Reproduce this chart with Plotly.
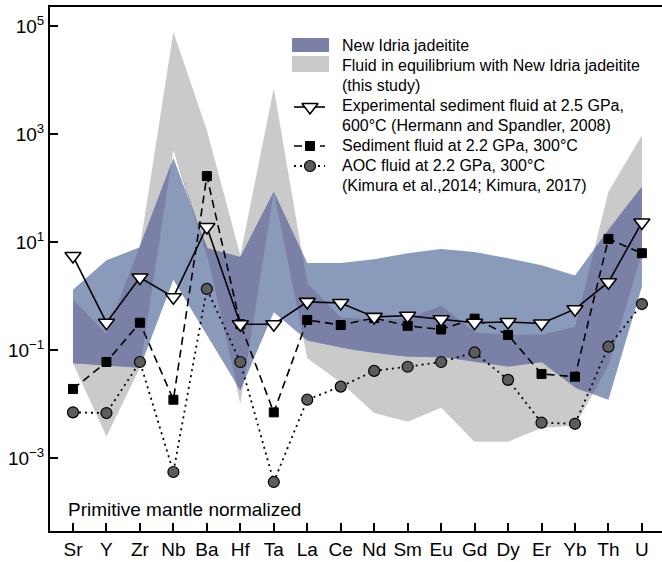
import numpy as np
import plotly.graph_objects as go

elements = ["Sr", "Y", "Zr", "Nb", "Ba", "Hf", "Ta", "La", "Ce", "Nd",
            "Sm", "Eu", "Gd", "Dy", "Er", "Yb", "Th", "U"]

# Experimental sediment fluid at 2.5 GPa, 600 C (Hermann and Spandler, 2008)
exp_sed = [5.5, 0.32, 2.2, 0.95, 19, 0.3, 0.3, 0.78, 0.74, 0.41,
           0.43, 0.37, 0.32, 0.33, 0.31, 0.57, 1.8, 23]
# Sediment fluid at 2.2 GPa, 300 C
sed_fluid = [0.019, 0.06, 0.32, 0.012, 166, 0.3, 0.007, 0.36, 0.29, 0.39,
             0.28, 0.24, 0.38, 0.19, 0.036, 0.032, 11.4, 6.2]
# AOC fluid at 2.2 GPa, 300 C
aoc_fluid = [0.007, 0.0068, 0.06, 0.00055, 1.35, 0.06, 0.00036, 0.012, 0.021, 0.041,
             0.049, 0.06, 0.09, 0.028, 0.0045, 0.0043, 0.115, 0.71]

# New Idria jadeitite range
jade_upper = [1.3, 4.6, 8, 360, 7.7, 5.3, 85, 4.1, 4.1, 4.8,
              6.2, 7.4, 6.5, 5.0, 3.7, 2.4, 17, 105]
jade_lower = [0.057, 0.052, 0.047, 2.0, 0.19, 0.018, 0.5, 0.15, 0.11, 0.088,
              0.075, 0.075, 0.06, 0.049, 0.06, 0.02, 0.012, 1.5]
# Fluid in equilibrium with New Idria jadeitite range
fluid_upper = [0.85, 0.2, 8, 78000, 1170, 5.7, 7000, 1.7, 0.4, 0.36,
               0.38, 0.68, 0.21, 0.19, 0.19, 0.27, 85, 950]
fluid_lower = [0.057, 0.0025, 0.047, 500, 6.0, 0.01, 85, 0.07, 0.025, 0.0068,
               0.0047, 0.0085, 0.002, 0.002, 0.0036, 0.004, 0.05, 6.3]

GRAY = "#c9cac9"
LIGHT_BLUE = "#8a9aba"
DARK_BLUE = "#7b80a6"
FONT = "Liberation Sans, Arial, sans-serif"

xs = np.arange(len(elements), dtype=float)


def overlap_band(x, a_lo, a_up, b_lo, b_up, n=80):
    """Intersection of two log-linear bands, sampled densely."""
    la_lo, la_up = np.log10(a_lo), np.log10(a_up)
    lb_lo, lb_up = np.log10(b_lo), np.log10(b_up)
    X, LO, HI = [], [], []
    for i in range(len(x) - 1):
        t = np.linspace(0, 1, n, endpoint=(i == len(x) - 2))
        xx = x[i] + t * (x[i + 1] - x[i])
        f = lambda arr: arr[i] + t * (arr[i + 1] - arr[i])
        lo = np.maximum(f(la_lo), f(lb_lo))
        hi = np.minimum(f(la_up), f(lb_up))
        hi = np.maximum(hi, lo)
        X.extend(xx)
        LO.extend(10 ** lo)
        HI.extend(10 ** hi)
    return np.array(X), np.array(LO), np.array(HI)


fig = go.Figure()


def band(x, lo, hi, color):
    fig.add_trace(go.Scatter(x=x, y=lo, mode="lines", line=dict(width=0, color=color),
                             showlegend=False, hoverinfo="skip"))
    fig.add_trace(go.Scatter(x=x, y=hi, mode="lines", line=dict(width=0, color=color),
                             fill="tonexty", fillcolor=color, showlegend=False,
                             hoverinfo="skip"))


band(xs, fluid_lower, fluid_upper, GRAY)
band(xs, jade_lower, jade_upper, LIGHT_BLUE)
ox, olo, ohi = overlap_band(xs, jade_lower, jade_upper, fluid_lower, fluid_upper)
band(ox, olo, ohi, DARK_BLUE)

exp_line = dict(color="black", width=1.6)
sed_line = dict(color="black", width=1.6, dash="8px,5px")
aoc_line = dict(color="black", width=1.8, dash="2px,4px")
exp_marker = dict(symbol="triangle-down", size=14, color="white",
                  line=dict(color="black", width=1.6))
sed_marker = dict(symbol="square", size=9, color="black", line=dict(color="black", width=1))
aoc_marker = dict(symbol="circle", size=11, color="#5c5c5c", line=dict(color="black", width=1.2))

fig.add_trace(go.Scatter(x=xs, y=aoc_fluid, mode="lines+markers", line=aoc_line,
                         marker=aoc_marker, showlegend=False))
fig.add_trace(go.Scatter(x=xs, y=sed_fluid, mode="lines+markers", line=sed_line,
                         marker=sed_marker, showlegend=False))
fig.add_trace(go.Scatter(x=xs, y=exp_sed, mode="lines+markers", line=exp_line,
                         marker=exp_marker, showlegend=False))

# ---- manual legend drawn on a pixel-like overlay axis ----
LX0, LX1, LXM = 294, 325, 310
leg_rows = [107, 146, 166]
for (y, ln, mk) in zip(leg_rows, [exp_line, sed_line, aoc_line],
                       [exp_marker, sed_marker, aoc_marker]):
    fig.add_trace(go.Scatter(x=[LX0, LX1], y=[y, y], mode="lines", line=ln,
                             xaxis="x2", yaxis="y2", showlegend=False, hoverinfo="skip"))
    fig.add_trace(go.Scatter(x=[LXM], y=[y], mode="markers", marker=mk,
                             xaxis="x2", yaxis="y2", showlegend=False, hoverinfo="skip"))

fig.add_shape(type="rect", xref="x2", yref="y2", x0=292, x1=329, y0=38, y1=52,
              fillcolor=DARK_BLUE, line=dict(width=0), layer="below")
fig.add_shape(type="rect", xref="x2", yref="y2", x0=292, x1=329, y0=56, y1=72,
              fillcolor=GRAY, line=dict(width=0), layer="below")

legend_text = [
    (45, "New Idria jadeitite"),
    (65, "Fluid in equilibrium with New Idria jadeitite"),
    (85, "(this study)"),
    (105, "Experimental sediment fluid at 2.5 GPa,"),
    (125, "600°C (Hermann and Spandler, 2008)"),
    (145, "Sediment fluid at 2.2 GPa, 300°C"),
    (165, "AOC fluid at 2.2 GPa, 300°C"),
    (185, "(Kimura et al.,2014; Kimura, 2017)"),
]
for y, txt in legend_text:
    fig.add_annotation(x=340, y=y, xref="x2", yref="y2", text=txt, showarrow=False,
                       xanchor="left", yanchor="middle",
                       font=dict(family=FONT, size=16, color="black"))

fig.add_annotation(x=66, y=509, xref="x2", yref="y2", text="Primitive mantle normalized",
                   showarrow=False, xanchor="left", yanchor="middle",
                   font=dict(family=FONT, size=19, color="black"))

ytick_vals = [1e-3, 1e-1, 1e1, 1e3, 1e5]
ytick_text = ["10<sup>−3</sup>", "10<sup>−1</sup>", "10<sup>1</sup>", "10<sup>3</sup>",
              "10<sup>5</sup>"]

fig.update_layout(
    width=662, height=562,
    margin=dict(l=50, r=0, t=7, b=31, autoexpand=False),
    paper_bgcolor="white", plot_bgcolor="white",
    font=dict(family=FONT, size=19, color="black"),
    showlegend=False,
    xaxis=dict(range=[-0.687, 17.6], tickmode="array", tickvals=list(xs), ticktext=elements,
               ticks="inside", ticklen=8, tickwidth=1.8, tickcolor="black",
               showline=True, linewidth=2, linecolor="black", mirror=True,
               showgrid=False, zeroline=False, tickfont=dict(size=19, family=FONT)),
    yaxis=dict(type="log", range=[-4.352, 5.352], tickmode="array", tickvals=ytick_vals,
               ticktext=ytick_text, ticks="inside", ticklen=8, tickwidth=1.8,
               tickcolor="black", showline=True, linewidth=2, linecolor="black",
               showgrid=False, zeroline=False, tickfont=dict(size=19, family=FONT)),
    xaxis2=dict(range=[50, 662], overlaying="x", anchor="y2", visible=False),
    yaxis2=dict(range=[531, 7], overlaying="y", anchor="x2", visible=False),
)

fig.write_html("out.html")
